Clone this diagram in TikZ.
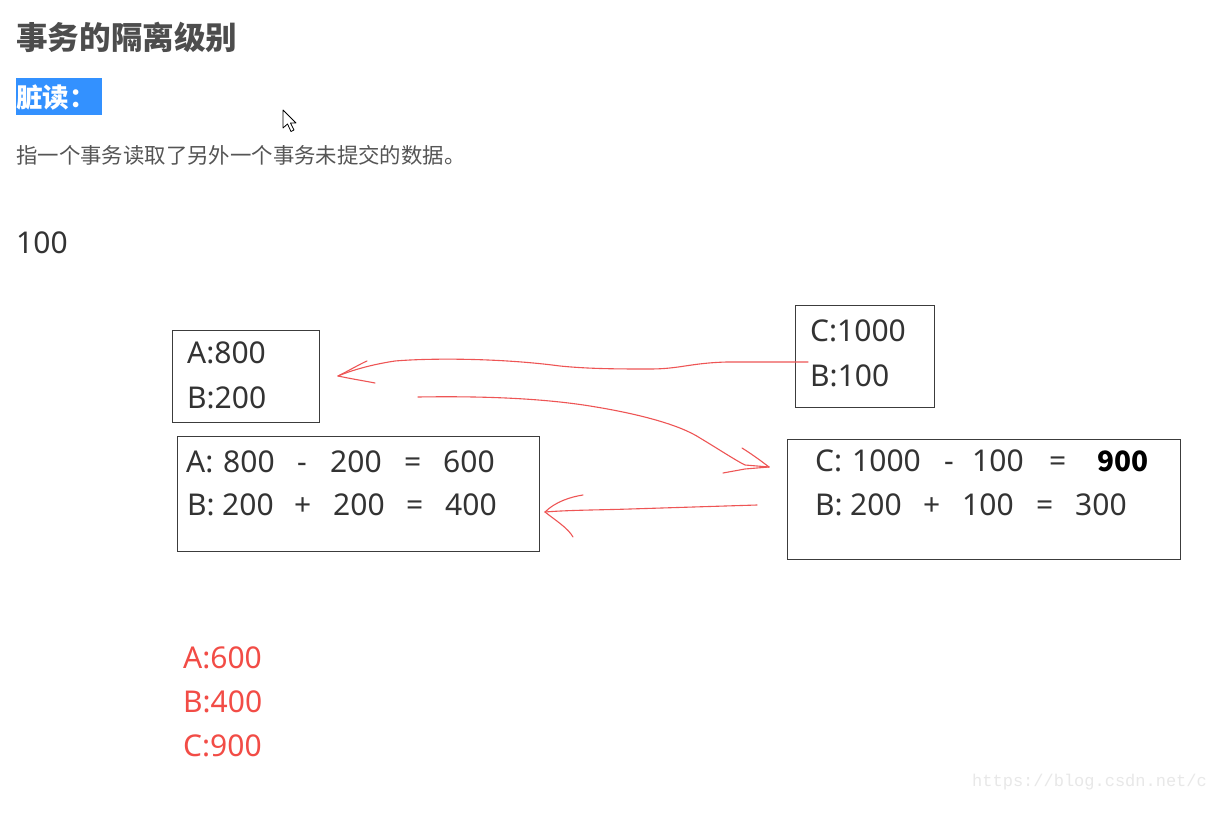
\documentclass[tikz,border=0pt]{standalone}
\usepackage{fontspec}
\setmainfont{Noto Sans}
\setmonofont{Liberation Mono}
\newfontfamily\cjk{Noto Sans CJK SC}
\definecolor{txtgray}{RGB}{51,51,51}
\definecolor{headgray}{RGB}{77,77,77}
\definecolor{descgray}{RGB}{85,85,85}
\definecolor{hlblue}{RGB}{51,145,255}
\definecolor{penred}{RGB}{238,85,85}
\definecolor{resred}{RGB}{242,76,70}
\definecolor{boxgray}{RGB}{60,60,60}
\definecolor{wmgray}{RGB}{232,232,232}
\tikzset{
  txt/.style={anchor=west, inner sep=0pt, text height=21.4pt, text depth=0pt, text=txtgray, font=\fontsize{30}{36}\selectfont},
  boldnum/.style={anchor=west, inner sep=0pt, text height=19pt, text depth=0pt, text=black, font=\cjk\fontsize{28}{32}\selectfont\bfseries},
  restxt/.style={anchor=west, inner sep=0pt, text height=21.4pt, text depth=0pt, text=resred, font=\fontsize{30}{36}\selectfont},
  frame/.style={draw=boxgray, line width=1pt},
  pen/.style={draw=penred, line width=1.1pt, line cap=round, line join=round},
}
\begin{document}
\begin{tikzpicture}[x=1pt,y=-1pt]
\useasboundingbox (0,0) rectangle (1207,821);
\fill[white] (0,0) rectangle (1207,821);

% heading
\node[anchor=west, inner sep=0pt, text=headgray, font=\cjk\fontsize{31.6}{36}\selectfont\bfseries] (title) at (16,37) {事务的隔离级别};
\fill[hlblue] (16,78) rectangle (102,115);
\node[anchor=west, inner sep=0pt, text=white, font=\cjk\fontsize{26.5}{30}\selectfont\bfseries] (dirty) at (16,97) {脏读：};
\node[anchor=west, inner sep=0pt, text=descgray, font=\cjk\fontsize{21.4}{24}\selectfont] (desc) at (16,155) {指一个事务读取了另外一个事务未提交的数据。};
\node[txt] (hundred) at (16,243) {100};

% cursor
\draw[black, fill=white, line width=0.8pt, line join=round]
  (283,110) -- (283,128) -- (287.5,124) -- (291,131.5) -- (294,130) -- (290.5,123) -- (296,123) -- cycle;

% box 1
\node[frame, minimum width=147pt, minimum height=92pt, inner sep=0pt] (b1) at (245.5,376) {};
\node[txt] (b1a) at (187,353) {A:800};
\node[txt] (b1b) at (187,398) {B:200};

% box 2
\node[frame, minimum width=362pt, minimum height=115pt, inner sep=0pt] (b2) at (358,493.5) {};
\node[txt] (b2a1) at (186,462) {A:};
\node[txt] (b2a2) at (223,462) {800};
\node[txt] (b2a3) at (297,462) {-};
\node[txt] (b2a4) at (330,462) {200};
\node[txt] (b2a5) at (404,462) {=};
\node[txt] (b2a6) at (443,462) {600};
\node[txt] (b2b1) at (187,505) {B:};
\node[txt] (b2b2) at (222,505) {200};
\node[txt] (b2b3) at (294,505) {+};
\node[txt] (b2b4) at (333,505) {200};
\node[txt] (b2b5) at (406,505) {=};
\node[txt] (b2b6) at (445,505) {400};

% box C
\node[frame, minimum width=139pt, minimum height=102pt, inner sep=0pt] (bc) at (864.5,356) {};
\node[txt] (bca) at (810,331) {C:1000};
\node[txt] (bcb) at (810,376) {B:100};

% box D
\node[frame, minimum width=393pt, minimum height=120pt, inner sep=0pt] (bd) at (983.5,499) {};
\node[txt] (bda1) at (815,461) {C:};
\node[txt] (bda2) at (852,461) {1000};
\node[txt] (bda3) at (944,461) {-};
\node[txt] (bda4) at (972,461) {100};
\node[txt] (bda5) at (1049,461) {=};
\node[boldnum] (bda6) at (1097,462) {900};
\node[txt] (bdb1) at (815,505) {B:};
\node[txt] (bdb2) at (850,505) {200};
\node[txt] (bdb3) at (923,505) {+};
\node[txt] (bdb4) at (962,505) {100};
\node[txt] (bdb5) at (1036,505) {=};
\node[txt] (bdb6) at (1075,505) {300};

% arrow ends
\coordinate (s1) at (808,362);
\coordinate (t1) at (338,376);
\coordinate (s2) at (418,397);
\coordinate (t2) at (769,467);
\coordinate (s3) at (757,505);
\coordinate (t3) at (545,512);

% arrow 1: box C -> box 1
\draw[pen] (s1) -- (727,362) .. controls (690,363) and (680,369) .. (650,369)
  .. controls (620,369) and (590,369) .. (560,366)
  .. controls (500,358) and (430,358) .. (395,361)
  .. controls (375,364) and (355,369) .. (t1);
\draw[pen] (t1) .. controls (350,370) and (360,364) .. (367,361);
\draw[pen] (t1) .. controls (352,379) and (365,381) .. (375,383);

% arrow 2: box 1 -> box D
\draw[pen] (s2) .. controls (480,396) and (540,398) .. (590,406)
  .. controls (640,414) and (680,425) .. (700,438)
  .. controls (720,450) and (735,460) .. (745,465) -- (t2);
\draw[pen] (t2) .. controls (760,460) and (750,453) .. (742,448);
\draw[pen] (t2) -- (745,469) -- (723,473);

% arrow 3: box D -> box 2
\draw[pen] (s3) -- (630,509) .. controls (600,510) and (570,510) .. (t3);
\draw[pen] (t3) .. controls (555,502) and (570,497) .. (583,495);
\draw[pen] (t3) .. controls (555,520) and (568,528) .. (573,537);

% results
\node[restxt] (ra) at (183,658) {A:600};
\node[restxt] (rb) at (183,702) {B:400};
\node[restxt] (rc) at (183,746) {C:900};

% watermark
\node[anchor=west, inner sep=0pt, text=wmgray, font=\ttfamily\fontsize{17}{20}\selectfont] (wm) at (972,782) {https://blog.csdn.net/c};
\end{tikzpicture}
\end{document}
